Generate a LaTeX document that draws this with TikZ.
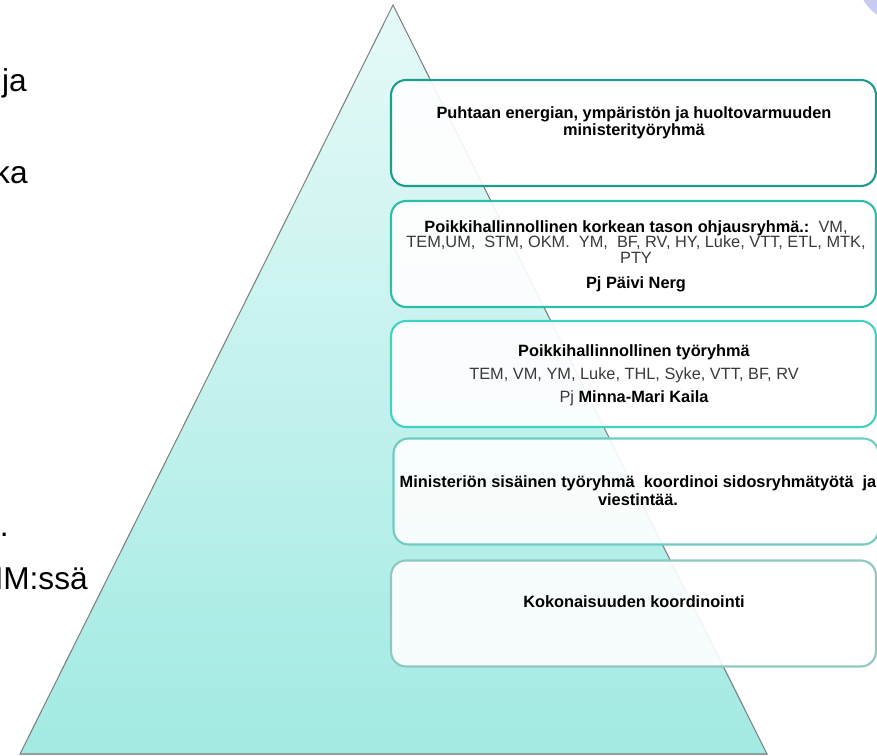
\documentclass[tikz,border=0pt]{standalone}
\usepackage{fontspec}
\setmainfont{Liberation Sans}
\usetikzlibrary{shadows}

\definecolor{triTop}{HTML}{E6FAF8}
\definecolor{triBottom}{HTML}{A2EAE3}
\definecolor{triEdge}{HTML}{808080}
\definecolor{edgeA}{HTML}{1E9C8E}
\definecolor{edgeB}{HTML}{2EBCAB}
\definecolor{edgeC}{HTML}{40D2C2}
\definecolor{edgeD}{HTML}{6ECDC0}
\definecolor{edgeE}{HTML}{8EC8C1}
\definecolor{memberGray}{HTML}{3A3A3A}
\definecolor{cornerLilac}{HTML}{C8CCF2}
\newcommand{\boldtxt}[1]{\textcolor{black}{\bfseries #1}}

\begin{document}
\begin{tikzpicture}[x = 0.02cm, y = -0.02cm]
	\tikzstyle{boxStyle}=[shape = rectangle, rounded corners = 0.3cm, minimum width = 9.7cm, minimum height = 2.12cm, line width = 1.2pt, fill = white, fill opacity = 0.9]
	\tikzstyle{textStyle}=[anchor = north, align = center, inner sep = 0pt, text = memberGray]
	\tikzstyle{sideStyle}=[anchor = base east, inner sep = 0pt, font = \fontsize{18}{20}\selectfont]
	\useasboundingbox (0,0) rectangle (877,756);
	% pyramid
	\coordinate (apex) at (393,5);
	\coordinate (baseL) at (20,754);
	\coordinate (baseR) at (767,754);
	\shade[top color = triTop, bottom color = triBottom, draw = triEdge, line width = 0.6pt, drop shadow = {shadow xshift = 0.6pt, shadow yshift = -0.6pt, opacity = 0.35}] (apex) -- (baseR) -- (baseL) -- cycle;
	\fill[cornerLilac] (18.05cm,0.45cm) circle (0.9cm);
	% text on the left, cut by the page
	\node[sideStyle] (s1) at (27,92) {ja};
	\node[sideStyle] (s2) at (28,184) {ka};
	\node[sideStyle] (s3) at (9,537) {.};
	\node[sideStyle] (s4) at (88,590) {MM:ssä};
	% boxes
	\node[boxStyle, draw = edgeA] (box1) at (633.5,133) {};
	\node[boxStyle, draw = edgeB] (box2) at (633.5,254) {};
	\node[boxStyle, draw = edgeC] (box3) at (633.5,374) {};
	\node[boxStyle, draw = edgeD] (box4) at (636,491.5) {};
	\node[boxStyle, draw = edgeE] (box5) at (633.5,613.5) {};
	\node[textStyle, font = \fontsize{9.3}{9.6}\selectfont] (t1) at (634,106) {\boldtxt{Puhtaan energian, ympäristön ja huoltovarmuuden}\\\boldtxt{ministerityöryhmä}};
	\node[textStyle, font = \fontsize{9.3}{8.8}\selectfont] (t2) at (636,220) {\boldtxt{Poikkihallinnollinen korkean tason ohjausryhmä.:}\ \ VM,\\TEM,UM,\ \ STM, OKM.\ \ YM,\ \ BF, RV, HY, Luke, VTT, ETL, MTK,\\PTY\\[5.4pt]\boldtxt{Pj Päivi Nerg}};
	\node[textStyle, font = \fontsize{9.3}{13.3}\selectfont] (t3) at (634,344) {\boldtxt{Poikkihallinnollinen työryhmä}\\TEM, VM,\ YM,\ Luke, THL, Syke, VTT, BF, RV\\Pj \boldtxt{Minna-Mari Kaila}};
	\node[textStyle, font = \fontsize{9.3}{10.2}\selectfont] (t4) at (638,475) {\boldtxt{Ministeriön sisäinen työryhmä\ \ koordinoi sidosryhmätyötä\ \ ja}\\\boldtxt{viestintää.}};
	\node[textStyle, font = \fontsize{9.3}{10}\selectfont] (t5) at (634,595) {\boldtxt{Kokonaisuuden koordinointi}};
\end{tikzpicture}
\end{document}
